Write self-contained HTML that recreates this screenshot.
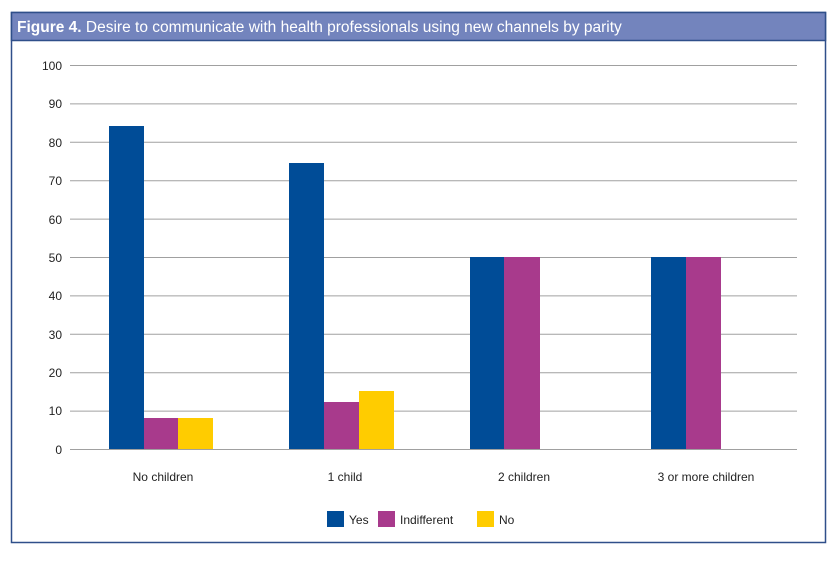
<!DOCTYPE html>
<html><head><style>
body{margin:0;background:#fff;width:837px;height:559px;overflow:hidden;font-family:"Liberation Sans",sans-serif}
</style></head><body>
<svg width="837" height="559" xmlns="http://www.w3.org/2000/svg" font-family="Liberation Sans, sans-serif">
<rect x="11.5" y="12.5" width="814" height="530" fill="#fff" stroke="#2f4f8a" stroke-width="1.5"/>
<rect x="11.5" y="12.5" width="814" height="28" fill="#7384bd" stroke="#2f4f8a" stroke-width="1.5"/>
<text x="17" y="32" font-size="15.5" fill="#fff"><tspan font-weight="bold">Figure 4.</tspan> Desire to communicate with health professionals using new channels by parity</text>
<g stroke="#a0a0a0" stroke-width="1">
<line x1="70" x2="797" y1="65.5" y2="65.5"/><line x1="70" x2="797" y1="103.9" y2="103.9"/>
<line x1="70" x2="797" y1="142.3" y2="142.3"/><line x1="70" x2="797" y1="180.7" y2="180.7"/>
<line x1="70" x2="797" y1="219.1" y2="219.1"/><line x1="70" x2="797" y1="257.5" y2="257.5"/>
<line x1="70" x2="797" y1="295.9" y2="295.9"/><line x1="70" x2="797" y1="334.3" y2="334.3"/>
<line x1="70" x2="797" y1="372.7" y2="372.7"/><line x1="70" x2="797" y1="411.1" y2="411.1"/>
<line x1="70" x2="797" y1="449.5" y2="449.5"/>
</g>
<g font-size="12" fill="#222" text-anchor="end">
<text x="62" y="70">100</text><text x="62" y="108">90</text><text x="62" y="147">80</text>
<text x="62" y="185">70</text><text x="62" y="224">60</text><text x="62" y="262">50</text>
<text x="62" y="300">40</text><text x="62" y="339">30</text><text x="62" y="377">20</text>
<text x="62" y="415">10</text><text x="62" y="454">0</text>
</g>
<g>
<rect x="109" y="126" width="35" height="323" fill="#004c97"/>
<rect x="144" y="418" width="34" height="31" fill="#a83a8c"/>
<rect x="178" y="418" width="35" height="31" fill="#ffcc00"/>
<rect x="289" y="163" width="35" height="286" fill="#004c97"/>
<rect x="324" y="402" width="35" height="47" fill="#a83a8c"/>
<rect x="359" y="391" width="35" height="58" fill="#ffcc00"/>
<rect x="470" y="257" width="34" height="192" fill="#004c97"/>
<rect x="504" y="257" width="36" height="192" fill="#a83a8c"/>
<rect x="651" y="257" width="35" height="192" fill="#004c97"/>
<rect x="686" y="257" width="35" height="192" fill="#a83a8c"/>
</g>
<g font-size="12" fill="#222" text-anchor="middle">
<text x="163" y="481">No children</text><text x="345" y="481">1 child</text>
<text x="524" y="481">2 children</text><text x="706" y="481">3 or more children</text>
</g>
<rect x="327" y="511" width="17" height="16" fill="#004c97"/>
<rect x="378" y="511" width="17" height="16" fill="#a83a8c"/>
<rect x="477" y="511" width="17" height="16" fill="#ffcc00"/>
<g font-size="12" fill="#222">
<text x="349" y="524">Yes</text><text x="400" y="524">Indifferent</text><text x="499" y="524">No</text>
</g>
</svg>
</body></html>
